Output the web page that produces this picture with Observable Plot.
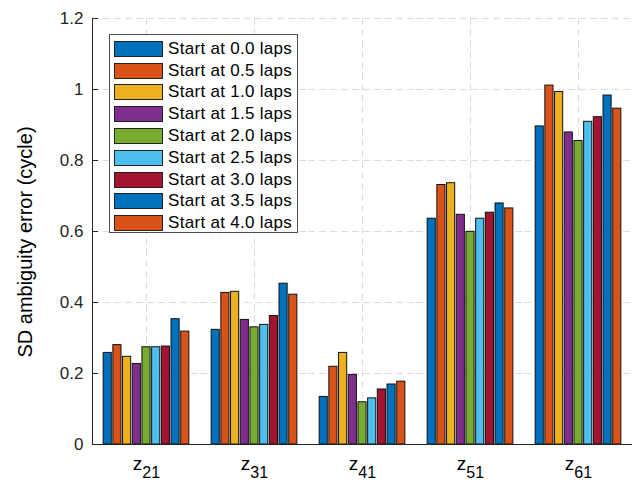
<!DOCTYPE html>
<html>
<head>
<meta charset="utf-8">
<script src="https://cdn.jsdelivr.net/npm/d3@7"></script>
<script src="https://cdn.jsdelivr.net/npm/@observablehq/plot@0.6"></script>
<style>
  body { margin: 0; background: #fff; }
  #wrap { position: relative; width: 634px; height: 484px; font-family: "Liberation Sans", Arial, sans-serif; }
  #legend { position: absolute; left: 109px; top: 34px; width: 189px; height: 199px; box-sizing: border-box;
            border: 1px solid #4d4d4d; background: #fff; padding-top: 3px; }
  .row { display: flex; align-items: center; height: 21.8px; }
  .sw { width: 49px; height: 16px; margin-left: 4px; margin-right: 5px; border: 1px solid #222; box-sizing: border-box; }
  .lb { font-size: 17px; color: #000; white-space: nowrap; letter-spacing: 0.3px; }
  #ylab { position: absolute; left: 25px; top: 242px; transform: translate(-50%, -50%) rotate(-90deg);
          font-size: 20px; color: #000; white-space: nowrap; }
</style>
</head>
<body>
<div id="wrap"></div>
<script>
const groups = ["z21", "z31", "z41", "z51", "z61"];
const series = ["Start at 0.0 laps", "Start at 0.5 laps", "Start at 1.0 laps", "Start at 1.5 laps",
  "Start at 2.0 laps", "Start at 2.5 laps", "Start at 3.0 laps", "Start at 3.5 laps", "Start at 4.0 laps"];
const colors = ["#0072BD", "#D95319", "#EDB120", "#7E2F8E", "#77AC30", "#4DBEEE", "#A2142F", "#0072BD", "#D95319"];

// values per series, across groups z21..z61
const s00 = [0.258, 0.323, 0.134, 0.636, 0.896];
const s05 = [0.280, 0.427, 0.219, 0.731, 1.011];
const s10 = [0.247, 0.430, 0.258, 0.736, 0.993];
const s15 = [0.227, 0.351, 0.196, 0.647, 0.879];
const s20 = [0.274, 0.330, 0.119, 0.599, 0.855];
const s25 = [0.274, 0.337, 0.130, 0.636, 0.909];
const s30 = [0.276, 0.362, 0.155, 0.653, 0.922];
const s35 = [0.353, 0.453, 0.169, 0.679, 0.983];
const s40 = [0.318, 0.422, 0.177, 0.665, 0.946];
const seriesValues = [s00, s05, s10, s15, s20, s25, s30, s35, s40];

const yTicks = [0, 0.2, 0.4, 0.6, 0.8, 1, 1.2];
const yLabel = "SD ambiguity error (cycle)";

const data = [];
series.forEach((s, i) => groups.forEach((g, j) => data.push({group: g, series: s, value: seriesValues[i][j]})));

const gridStyle = {stroke: "#dcdcdc", strokeOpacity: 1, strokeDasharray: "7,4", strokeWidth: 1};

const chart = Plot.plot({
  width: 634, height: 484,
  marginLeft: 92, marginRight: 2, marginTop: 18, marginBottom: 40,
  style: {fontFamily: "Liberation Sans, Arial, sans-serif", background: "#fff", color: "#262626"},
  fx: {domain: groups, padding: 0, label: null, round: false},
  x: {domain: series, axis: null, paddingInner: 0.16, paddingOuter: 1.15, round: false},
  y: {domain: [0, 1.2], label: null},
  color: {domain: series, range: colors},
  marks: [
    Plot.gridY(yTicks, gridStyle),
    Plot.gridFx(gridStyle),
    Plot.barY(data, {fx: "group", x: "series", y: "value", fill: "series", stroke: "#111", strokeWidth: 1}),
    Plot.ruleY([0], {stroke: "#262626", strokeWidth: 1}),
    Plot.frame({facet: "super", anchor: "left", stroke: "#262626", strokeWidth: 1}),
    Plot.axisY(yTicks, {tickSize: 0, tickPadding: 9, fontSize: 17, fill: "#262626",
      tickFormat: d => String(d), label: null}),
    Plot.tickY(yTicks, {y: d => d, facetAnchor: "left", stroke: "#262626", insetRight: 102}),
    Plot.axisFx({anchor: "bottom", tickSize: 0, tickPadding: 12, fontSize: 19, fill: "#000", label: null})
  ]
});

const wrap = document.getElementById("wrap");
wrap.appendChild(chart);

// subscript the group labels
d3.select(chart).selectAll("text").each(function() {
  const t = this.textContent;
  const m = /^z(\d+)$/.exec(t);
  if (m && !this.querySelector("tspan")) {
    const el = d3.select(this);
    el.text("z");
    el.append("tspan").attr("dy", "0.5em").attr("font-size", "16px").text(m[1]);
  }
});

// y-axis title
const ylab = document.createElement("div");
ylab.id = "ylab";
ylab.textContent = yLabel;
wrap.appendChild(ylab);

// legend
const legend = document.createElement("div");
legend.id = "legend";
series.forEach((s, i) => {
  const row = document.createElement("div");
  row.className = "row";
  const sw = document.createElement("div");
  sw.className = "sw";
  sw.style.background = colors[i];
  const lb = document.createElement("span");
  lb.className = "lb";
  lb.textContent = s;
  row.appendChild(sw); row.appendChild(lb);
  legend.appendChild(row);
});
wrap.appendChild(legend);
</script>
</body>
</html>
